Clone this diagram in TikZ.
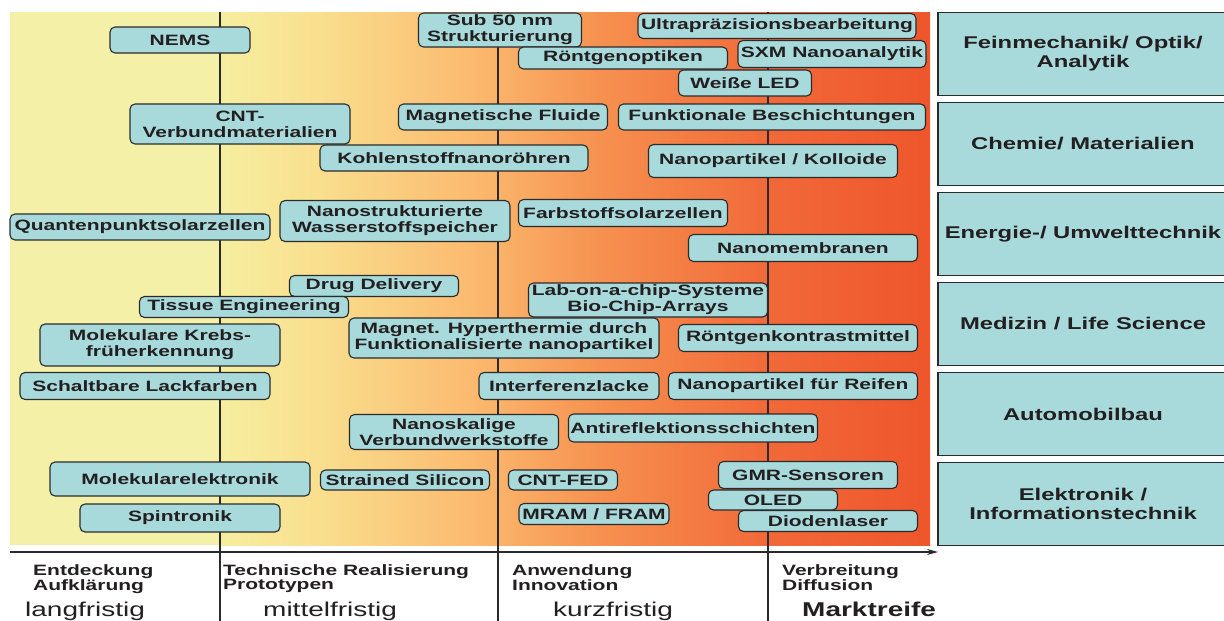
\documentclass[tikz,border=0pt]{standalone}
\usepackage{fontspec}
\setmainfont{Liberation Sans}[FakeStretch=1.4]
\usetikzlibrary{arrows.meta}
\definecolor{boxfill}{HTML}{A8DADC}
\definecolor{boxline}{HTML}{2A2A2A}
\definecolor{txt}{HTML}{231F20}
\definecolor{pale}{HTML}{F4F0A8}
\definecolor{ramp0}{HTML}{F6EE9F}
\definecolor{ramp1}{HTML}{F9DF8E}
\definecolor{ramp2}{HTML}{FBB96E}
\definecolor{ramp3}{HTML}{F6904F}
\definecolor{ramp4}{HTML}{F16838}
\definecolor{ramp5}{HTML}{EE562B}
\pgfdeclarehorizontalshading{ramp}{100bp}{color(0bp)=(ramp0); color(25bp)=(ramp0);
  color(32bp)=(ramp1); color(43bp)=(ramp2); color(52bp)=(ramp3); color(64bp)=(ramp4);
  color(75bp)=(ramp5); color(100bp)=(ramp5)}
\begin{document}
\begin{tikzpicture}[x=1pt, y=-1pt,
    tbox/.style 2 args={draw=boxline, fill=boxfill, rounded corners=5pt, line width=1.1pt,
      inner sep=0pt, align=center, text=txt, minimum width=#1, minimum height=#2,
      font=\bfseries\fontsize{15}{16}\selectfont},
    sbox/.style={draw=boxline, fill=boxfill, line width=1.1pt, inner sep=0pt, align=center,
      text=txt, minimum width=290pt, minimum height=83pt,
      font=\bfseries\fontsize{17}{19}\selectfont},
    phase/.style={anchor=north west, inner sep=0pt, align=left, text=txt,
      font=\bfseries\fontsize{15}{13}\selectfont},
    term/.style={anchor=base west, inner sep=0pt, text=txt, font=\fontsize{20}{22}\selectfont},
    divider/.style={line width=1.2pt, draw=boxline}]
  \useasboundingbox (0,0) rectangle (1224,621);
  % background
  \fill[pale] (10,12) rectangle (220,545);
  \shade[shading=ramp] (220,12) rectangle (930,545);

  % phase dividers and time axis
  \coordinate (d1top) at (220,12);  \coordinate (d1bot) at (220,621);
  \coordinate (d2top) at (498,12);  \coordinate (d2bot) at (498,621);
  \coordinate (d3top) at (768,12);  \coordinate (d3bot) at (768,621);
  \coordinate (axl) at (10,552);    \coordinate (axr) at (938,552);
  \draw[divider] (d1top) -- (d1bot);
  \draw[divider] (d2top) -- (d2bot);
  \draw[divider] (d3top) -- (d3bot);
  \draw[divider, -{Stealth[length=11pt,width=6pt]}] (axl) -- (axr);

  % Feinmechanik
  \node[tbox={140pt}{26pt}] (nems) at (180,40) {NEMS};
  \node[tbox={163pt}{34pt}] (sub50) at (500,30) {Sub 50 nm\\Strukturierung};
  \node[tbox={278pt}{25pt}] (ultra) at (777,26) {Ultrapräzisionsbearbeitung};
  \node[tbox={188pt}{27pt}] (sxm) at (832,54) {SXM Nanoanalytik};
  \node[tbox={209pt}{22pt}] (roentopt) at (623,58) {Röntgenoptiken};
  \node[tbox={133pt}{26pt}] (weissled) at (745,83) {Weiße LED};
  % Chemie
  \node[tbox={209pt}{26pt}] (magfluid) at (503,117) {Magnetische Fluide};
  \node[tbox={307pt}{26pt}] (funkbesch) at (772,117) {Funktionale Beschichtungen};
  \node[tbox={220pt}{40pt}] (cntverb) at (240,124) {CNT-\\Verbundmaterialien};
  \node[tbox={268pt}{26pt}] (kohlenst) at (454,158) {Kohlenstoffnanoröhren};
  \node[tbox={249pt}{33pt}] (kolloide) at (773,161) {Nanopartikel / Kolloide};
  % Energie
  \node[tbox={260pt}{26pt}] (quantsol) at (140,227) {Quantenpunktsolarzellen};
  \node[tbox={230pt}{41pt}] (wasserst) at (395,221) {Nanostrukturierte\\Wasserstoffspeicher};
  \node[tbox={209pt}{27pt}] (farbsol) at (623,213) {Farbstoffsolarzellen};
  \node[tbox={229pt}{27pt}] (nanomem) at (803,248) {Nanomembranen};
  % Medizin
  \node[tbox={169pt}{21pt}] (drugdel) at (374,286) {Drug Delivery};
  \node[tbox={209pt}{21pt}] (tissue) at (244,307) {Tissue Engineering};
  \node[tbox={239pt}{34pt}] (labchip) at (648,300) {Lab-on-a-chip-Systeme\\Bio-Chip-Arrays};
  \node[tbox={240pt}{42pt}] (krebs) at (160,345) {Molekulare Krebs-\\früherkennung};
  \node[tbox={310pt}{40pt}] (hyperth) at (504,338) {Magnet. Hyperthermie durch\\Funktionalisierte nanopartikel};
  \node[tbox={239pt}{27pt}] (roentkm) at (798,338) {Röntgenkontrastmittel};
  % Automobil
  \node[tbox={250pt}{27pt}] (lackfarb) at (145,386) {Schaltbare Lackfarben};
  \node[tbox={180pt}{27pt}] (interf) at (569,386) {Interferenzlacke};
  \node[tbox={249pt}{27pt}] (reifen) at (793,386) {Nanopartikel für Reifen};
  \node[tbox={209pt}{35pt}] (verbundw) at (454,432) {Nanoskalige\\Verbundwerkstoffe};
  \node[tbox={249pt}{28pt}] (antirefl) at (693,428) {Antireflektionsschichten};
  % Elektronik
  \node[tbox={260pt}{34pt}] (molel) at (180,479) {Molekularelektronik};
  \node[tbox={169pt}{20pt}] (strained) at (405,480) {Strained Silicon};
  \node[tbox={109pt}{20pt}] (cntfed) at (563,480) {CNT-FED};
  \node[tbox={179pt}{27pt}] (gmr) at (808,475) {GMR-Sensoren};
  \node[tbox={129pt}{20pt}] (oled) at (773,500) {OLED};
  \node[tbox={200pt}{28pt}] (spintr) at (180,518) {Spintronik};
  \node[tbox={150pt}{21pt}] (mram) at (594,514) {MRAM / FRAM};
  \node[tbox={179pt}{21pt}] (diodl) at (828,521) {Diodenlaser};

  % branches
  \node[sbox] (feinm) at (1083,54) {Feinmechanik/ Optik/\\Analytik};
  \node[sbox] (chemie) at (1083,144) {Chemie/ Materialien};
  \node[sbox] (energie) at (1083,234) {Energie-/ Umwelttechnik};
  \node[sbox] (medizin) at (1083,324) {Medizin / Life Science};
  \node[sbox] (automob) at (1083,414) {Automobilbau};
  \node[sbox] (elektr) at (1083,504) {Elektronik /\\Informationstechnik};

  % phases
  \node[phase] (ph1) at (33,564) {Entdeckung\\Aufklärung};
  \node[phase] (ph2) at (223,564) {Technische Realisierung\\Prototypen};
  \node[phase] (ph3) at (512,564) {Anwendung\\Innovation};
  \node[phase] (ph4) at (782,564) {Verbreitung\\Diffusion};
  \node[term] (lang) at (25,616) {langfristig};
  \node[term] (mittel) at (263,616) {mittelfristig};
  \node[term] (kurz) at (553,616) {kurzfristig};
  \node[term, font=\bfseries\fontsize{20}{22}\selectfont] (markt) at (802,616) {Marktreife};
\end{tikzpicture}
\end{document}
